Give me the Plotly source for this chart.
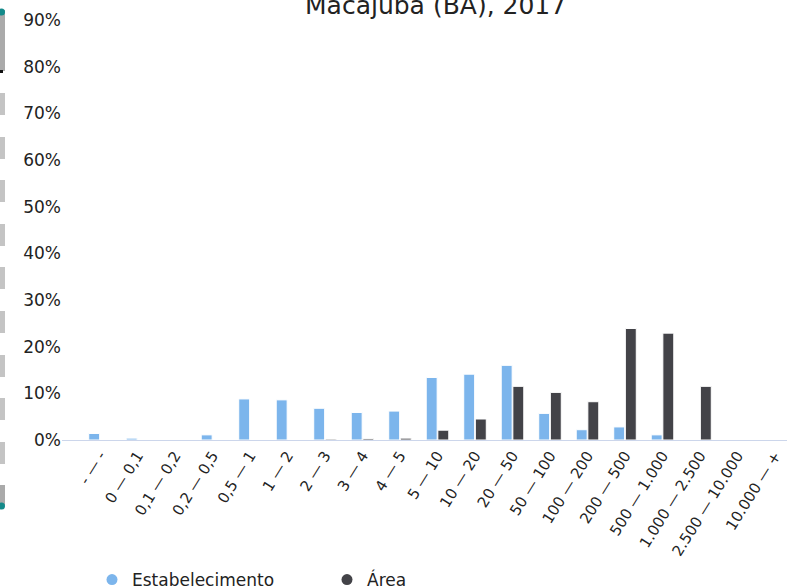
import plotly.graph_objects as go

cats = ["- — -", "0 — 0,1", "0,1 — 0,2", "0,2 — 0,5", "0,5 — 1", "1 — 2", "2 — 3",
        "3 — 4", "4 — 5", "5 — 10", "10 — 20", "20 — 50", "50 — 100", "100 — 200",
        "200 — 500", "500 — 1.000", "1.000 — 2.500", "2.500 — 10.000", "10.000 — +"]

estabelecimento = [1.4, 0.4, 0.0, 1.1, 8.8, 8.6, 6.8, 5.9, 6.2, 13.4, 14.1, 16.0, 5.7, 2.2,
                   2.8, 1.1, 0.0, 0.0, 0.0]
area = [0.0, 0.0, 0.0, 0.0, 0.0, 0.0, 0.2, 0.3, 0.4, 2.1, 4.5, 11.5, 10.2, 8.2,
        23.9, 22.9, 11.5, 0.0, 0.0]

y_ticks = [0, 10, 20, 30, 40, 50, 60, 70, 80, 90]
y_tick_labels = [f"{v}%" for v in y_ticks]

title_text = "Macajuba (BA), 2017"
FONT = "DejaVu Sans"
C_EST = "#7cb5ec"
C_AREA = "#434348"

fig = go.Figure()
fig.add_bar(x=cats, y=estabelecimento, name="Estabelecimento", marker_color=C_EST,
            marker_line_color="white", marker_line_width=1, showlegend=False)
fig.add_bar(x=cats, y=area, name="Área", marker_color=C_AREA,
            marker_line_color="white", marker_line_width=1, showlegend=False)
fig.add_scatter(x=[None], y=[None], mode="markers", name="Estabelecimento",
                marker=dict(symbol="circle", size=11, color=C_EST))
fig.add_scatter(x=[None], y=[None], mode="markers", name="Área",
                marker=dict(symbol="circle", size=11, color=C_AREA))

W, H = 787, 587
L, R, T, B = 62, 0, 20, 147
pw, ph = W - L - R, H - T - B


def px(x):
    return (x - L) / pw


def py(y):
    return (H - B - y) / ph


shapes = []
def rect(x0, y0, x1, y1, color):
    shapes.append(dict(type="rect", xref="paper", yref="paper", x0=px(x0), x1=px(x1),
                       y0=py(y1), y1=py(y0), fillcolor=color, line_width=0, layer="above"))

rect(0, 10, 5, 71, "#aaaaaa")
for y0 in [93, 137, 180, 224, 267, 311, 355, 398, 442]:
    rect(0, y0, 5, y0 + 22, "#c4c4c4")
rect(0, 485, 5, 505, "#aaaaaa")
rect(0, 70, 3, 73, "#111111")
for cy in [12, 506]:
    shapes.append(dict(type="circle", xref="paper", yref="paper", x0=px(-2), x1=px(5),
                       y0=py(cy + 3.5), y1=py(cy - 3.5), fillcolor="#138a8a", line_width=0))

fig.update_layout(
    width=W, height=H,
    margin=dict(l=L, r=R, t=T, b=B, autoexpand=False),
    paper_bgcolor="white", plot_bgcolor="white",
    font=dict(family=FONT, color="#222222", size=15),
    barmode="group", bargap=0.38, bargroupgap=0.06,
    showlegend=True,
    legend=dict(orientation="h", x=px(92), xanchor="left", y=py(580), yref="paper",
                yanchor="middle", font=dict(size=17, family=FONT, color="#222222"),
                entrywidth=190, itemclick=False),
    xaxis=dict(type="category", categoryorder="array", categoryarray=cats,
               range=[(L - 100) / 37.5, (W - 100) / 37.5], showgrid=False,
               showline=True, linecolor="#ccd6eb", linewidth=1, ticks="",
               tickangle=-58, tickfont=dict(size=15, family=FONT, color="#222222"),
               zeroline=False),
    yaxis=dict(range=[0, 90], tickvals=y_ticks, ticktext=y_tick_labels, showgrid=False,
               zeroline=False, showline=False, ticks="",
               tickfont=dict(size=17, family=FONT, color="#222222")),
    shapes=shapes,
    annotations=[dict(text=title_text, xref="paper", yref="paper", x=px(435), y=py(6),
                      xanchor="center", yanchor="middle", showarrow=False,
                      font=dict(size=25, family=FONT, color="#222222"))],
)

fig.write_html("out.html", config={"displayModeBar": False},
               post_script="document.body.style.margin='0';document.body.style.overflow='hidden';")
